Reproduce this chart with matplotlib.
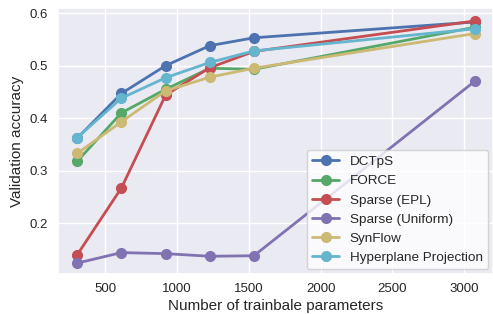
import matplotlib
matplotlib.use('Agg')
import matplotlib.pyplot as plt
import seaborn as sns

params = [307, 614, 922, 1229, 1536, 3072]

dctps = [0.362, 0.447, 0.500, 0.538, 0.553, 0.583]
force = [0.318, 0.410, 0.455, 0.495, 0.493, 0.573]
sparse_epl = [0.140, 0.267, 0.444, 0.496, 0.527, 0.585]
sparse_uniform = [0.124, 0.144, 0.142, 0.137, 0.138, 0.470]
synflow = [0.333, 0.393, 0.452, 0.478, 0.495, 0.561]
hyperplane = [0.363, 0.438, 0.477, 0.506, 0.528, 0.570]

labels = ['DCTpS', 'FORCE', 'Sparse (EPL)', 'Sparse (Uniform)', 'SynFlow', 'Hyperplane Projection']
series = [dctps, force, sparse_epl, sparse_uniform, synflow, hyperplane]
colors = ['#4C72B0', '#55A868', '#C44E52', '#8172B2', '#CCB974', '#64B5CD']

sns.set_theme(style='darkgrid')
plt.rcParams['font.family'] = ['Liberation Sans', 'DejaVu Sans']

fig, ax = plt.subplots(figsize=(4.93, 3.14), dpi=100)
for vals, lab, c in zip(series, labels, colors):
    ax.plot(params, vals, '-o', color=c, label=lab, linewidth=2, markersize=7)

ax.set_xlim(174, 3200)
ax.set_ylim(0.103, 0.61)
ax.set_xticks([500, 1000, 1500, 2000, 2500, 3000])
ax.set_yticks([0.2, 0.3, 0.4, 0.5, 0.6])
ax.tick_params(axis='x', labelsize=9.5, length=0, pad=6.5)
ax.tick_params(axis='y', labelsize=9.5, length=0, pad=7.5)
ax.set_xlabel('Number of trainbale parameters', fontsize=11, labelpad=3)
ax.set_ylabel('Validation accuracy', fontsize=11, labelpad=4)
ax.legend(loc='lower right', fontsize=9.7, facecolor='white', framealpha=0.8,
          borderaxespad=0.35)

fig.subplots_adjust(left=0.118, right=1.0, top=0.975, bottom=0.127)
fig.savefig('out.png', dpi=100)
